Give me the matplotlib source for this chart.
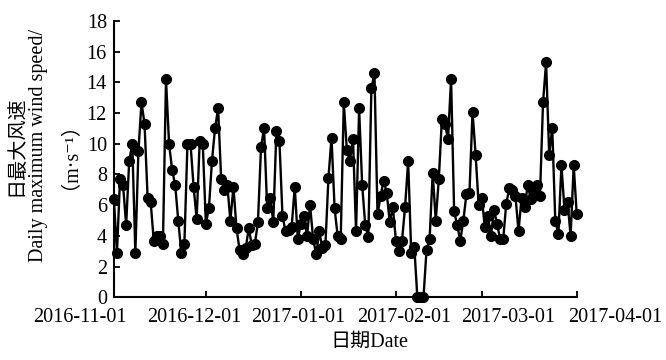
import matplotlib
matplotlib.use('Agg')
import matplotlib.pyplot as plt
import matplotlib.transforms as mtransforms
import pandas as pd

plt.rcParams['font.family'] = ['Liberation Serif', 'Noto Sans CJK SC', 'DejaVu Serif']

# daily maximum wind speed, 2016-11-01 .. 2017-04-01
wind = [
    6.4, 2.9, 7.7, 7.3, 4.7, 8.9, 10.0, 2.9, 9.5, 12.7,
    11.3, 6.5, 6.2, 3.7, 4.0, 4.0, 3.5, 14.2, 10.0, 8.3,
    7.3, 5.0, 2.9, 3.5, 10.0, 10.0, 7.2, 5.1, 10.2, 10.0,
    4.8, 5.8, 8.9, 11.0, 12.3, 7.7, 7.0, 7.3, 5.0, 7.2,
    4.5, 3.1, 2.8, 3.2, 4.5, 3.4, 3.5, 4.9, 9.8, 11.0,
    5.8, 6.5, 4.9, 10.8, 10.2, 5.3, 4.3, 4.4, 4.6, 7.2,
    3.8, 4.8, 5.3, 4.0, 6.0, 3.8, 2.8, 4.3, 3.2, 3.4,
    7.8, 10.4, 5.8, 4.0, 3.8, 12.7, 9.6, 8.9, 10.3, 4.3,
    12.3, 7.3, 4.7, 3.9, 13.6, 14.6, 5.4, 6.6, 7.6, 6.8,
    4.9, 5.9, 3.7, 3.0, 3.7, 5.9, 8.9, 2.9, 3.3, 0.0,
    0.0, 0.0, 3.1, 3.8, 8.1, 5.0, 7.7, 11.6, 11.3, 10.3,
    14.2, 5.6, 4.7, 3.7, 5.0, 6.7, 6.8, 12.1, 9.3, 6.0,
    6.5, 4.6, 5.3, 4.0, 5.7, 4.8, 3.8, 3.8, 6.1, 7.1,
    7.0, 6.6, 4.3, 6.5, 5.9, 7.3, 6.4, 6.8, 7.3, 6.6,
    12.7, 15.3, 9.3, 11.0, 5.0, 4.1, 8.6, 5.7, 6.2, 4.0,
    8.6, 5.4,
]
dates = pd.date_range('2016-11-01', periods=len(wind), freq='D')

tick_dates = pd.to_datetime(['2016-11-01', '2016-12-01', '2017-01-01',
                             '2017-02-01', '2017-03-01', '2017-04-01'])
tick_labels = ['2016-11-01', '2016-12-01', '2017-01-01',
               '2017-02-01', '2017-03-01', '2017-04-01']
yticks = list(range(0, 19, 2))

fig = plt.figure(figsize=(6.66, 3.6), dpi=100)
ax = fig.add_axes([0.171, 0.174, 0.695, 0.768])

ax.plot(dates, wind, color='black', lw=1.7, marker='o', markersize=7,
        clip_on=False, zorder=3)

ax.set_xlim(tick_dates[0], tick_dates[-1])
ax.set_ylim(0, 18)
ax.set_xticks(tick_dates)
ax.set_xticklabels(tick_labels)
ax.set_yticks(yticks)

for s in ['top', 'right']:
    ax.spines[s].set_visible(False)
for s in ['left', 'bottom']:
    ax.spines[s].set_linewidth(1.5)

ax.tick_params(direction='in', length=4, width=1.3, labelsize=14.5)
ax.tick_params(axis='y', pad=5)
ax.tick_params(axis='x', pad=8)

# the reference spreads its date labels evenly, not under their ticks
shifts = [-24.5, -8.6, -2.2, 5.8, 18.7, 27.4]
for lab, dx in zip(ax.get_xticklabels(), shifts):
    lab.set_transform(lab.get_transform() +
                      mtransforms.ScaledTranslation(dx / 72, 0, fig.dpi_scale_trans))

ax.set_ylabel('日最大风速\nDaily maximum wind speed/\n（m·s⁻¹）',
              fontsize=14.5, linespacing=1.2)
ax.yaxis.set_label_coords(-0.094, 0.55)
ax.set_xlabel('日期Date', fontsize=14.5)
ax.xaxis.set_label_coords(0.553, -0.13)

fig.savefig('out.png', dpi=100)
